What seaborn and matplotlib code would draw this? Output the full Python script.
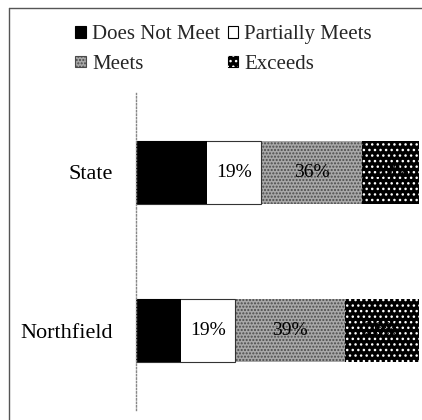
import matplotlib
matplotlib.use("Agg")
import matplotlib.pyplot as plt
from matplotlib.patches import Patch
from matplotlib.lines import Line2D
import seaborn as sns
import pandas as pd
import numpy as np

categories = ["State", "Northfield"]
series_names = ["Does Not Meet", "Partially Meets", "Meets", "Exceeds"]
does_not_meet = [25, 16]
partially_meets = [19, 19]
meets = [36, 39]
exceeds = [20, 26]

sns.set_theme(style="white")
plt.rcParams["font.family"] = ["Liberation Serif", "DejaVu Serif"]
plt.rcParams["hatch.linewidth"] = 1.0

styles = {
    "Does Not Meet": dict(fc="#000000", hatch=None, ec="#000000", lw=0),
    "Partially Meets": dict(fc="#ffffff", hatch=None, ec="#333333", lw=0.8),
    "Meets": dict(fc="#a8a8a8", hatch=".....", ec="#4a4a4a", lw=0),
    "Exceeds": dict(fc="#000000", hatch="...", ec="#ffffff", lw=0),
}

W, H = 422, 420
fig = plt.figure(figsize=(W / 100, H / 100), dpi=100)
fig.patch.set_facecolor("white")

ax = fig.add_axes([136 / W, 1 - 410 / H, (419 - 136) / W, (410 - 93) / H])

values = [does_not_meet, partially_meets, meets, exceeds]
cum = np.cumsum(np.array(values), axis=0)
df = pd.DataFrame({"category": categories})

# draw cumulative bars from the largest to the smallest so they stack visually
for i in range(len(series_names) - 1, -1, -1):
    name = series_names[i]
    st = styles[name]
    d = df.copy()
    d["total"] = cum[i]
    sns.barplot(data=d, x="total", y="category", order=categories, orient="h",
                color=st["fc"], saturation=1, width=0.4, ax=ax,
                edgecolor=st["ec"], linewidth=st["lw"], hatch=st["hatch"])

# percentage labels
for i, name in enumerate(series_names):
    for j, cat in enumerate(categories):
        left = cum[i][j] - values[i][j]
        ax.text(left + values[i][j] / 2, j, f"{values[i][j]}%", ha="center",
                va="center", fontsize=14, color="black")

ax.set_xlim(0, 100)
ax.set_ylim(1.5, -0.5)
ax.set_xlabel("")
ax.set_ylabel("")
ax.set_xticks([])
ax.tick_params(axis="y", length=0, pad=17, labelsize=16)
for lab in ax.get_yticklabels():
    lab.set_color("black")
for s in ["top", "right", "bottom"]:
    ax.spines[s].set_visible(False)
ax.spines["left"].set_linestyle((0, (1, 1.5)))
ax.spines["left"].set_color("#888888")
ax.spines["left"].set_linewidth(1.0)
ax.set_facecolor("none")

# outer frame (left and top edges visible)
fig.add_artist(Line2D([8.5 / W, 8.5 / W], [0, 1 - 7.5 / H], transform=fig.transFigure,
                      color="#555555", linewidth=1.0))
fig.add_artist(Line2D([8.5 / W, 1], [1 - 7.5 / H, 1 - 7.5 / H], transform=fig.transFigure,
                      color="#555555", linewidth=1.0))

h_dnm = Patch(facecolor="#000000", edgecolor="black", linewidth=0.8)
h_pm = Patch(facecolor="#ffffff", edgecolor="black", linewidth=0.8)
h_meets = Patch(facecolor=styles["Meets"]["fc"], edgecolor="#4a4a4a",
                hatch=styles["Meets"]["hatch"], linewidth=0.8)
h_exc = (Patch(facecolor="#000000", edgecolor="#000000", linewidth=0.8),
         Patch(facecolor="none", edgecolor="#ffffff", hatch="...", linewidth=0))
leg = fig.legend([h_dnm, h_meets, h_pm, h_exc],
                 ["Does Not Meet", "Meets", "Partially Meets", "Exceeds"],
                 ncol=2, loc="upper left",
                 bbox_to_anchor=(65 / W, 1 - 15 / H), frameon=False,
                 fontsize=15, handlelength=0.5, handleheight=0.5,
                 handletextpad=0.3, columnspacing=0.35, labelspacing=0.5,
                 borderpad=0)

fig.savefig("out.png", dpi=100, facecolor="white")
